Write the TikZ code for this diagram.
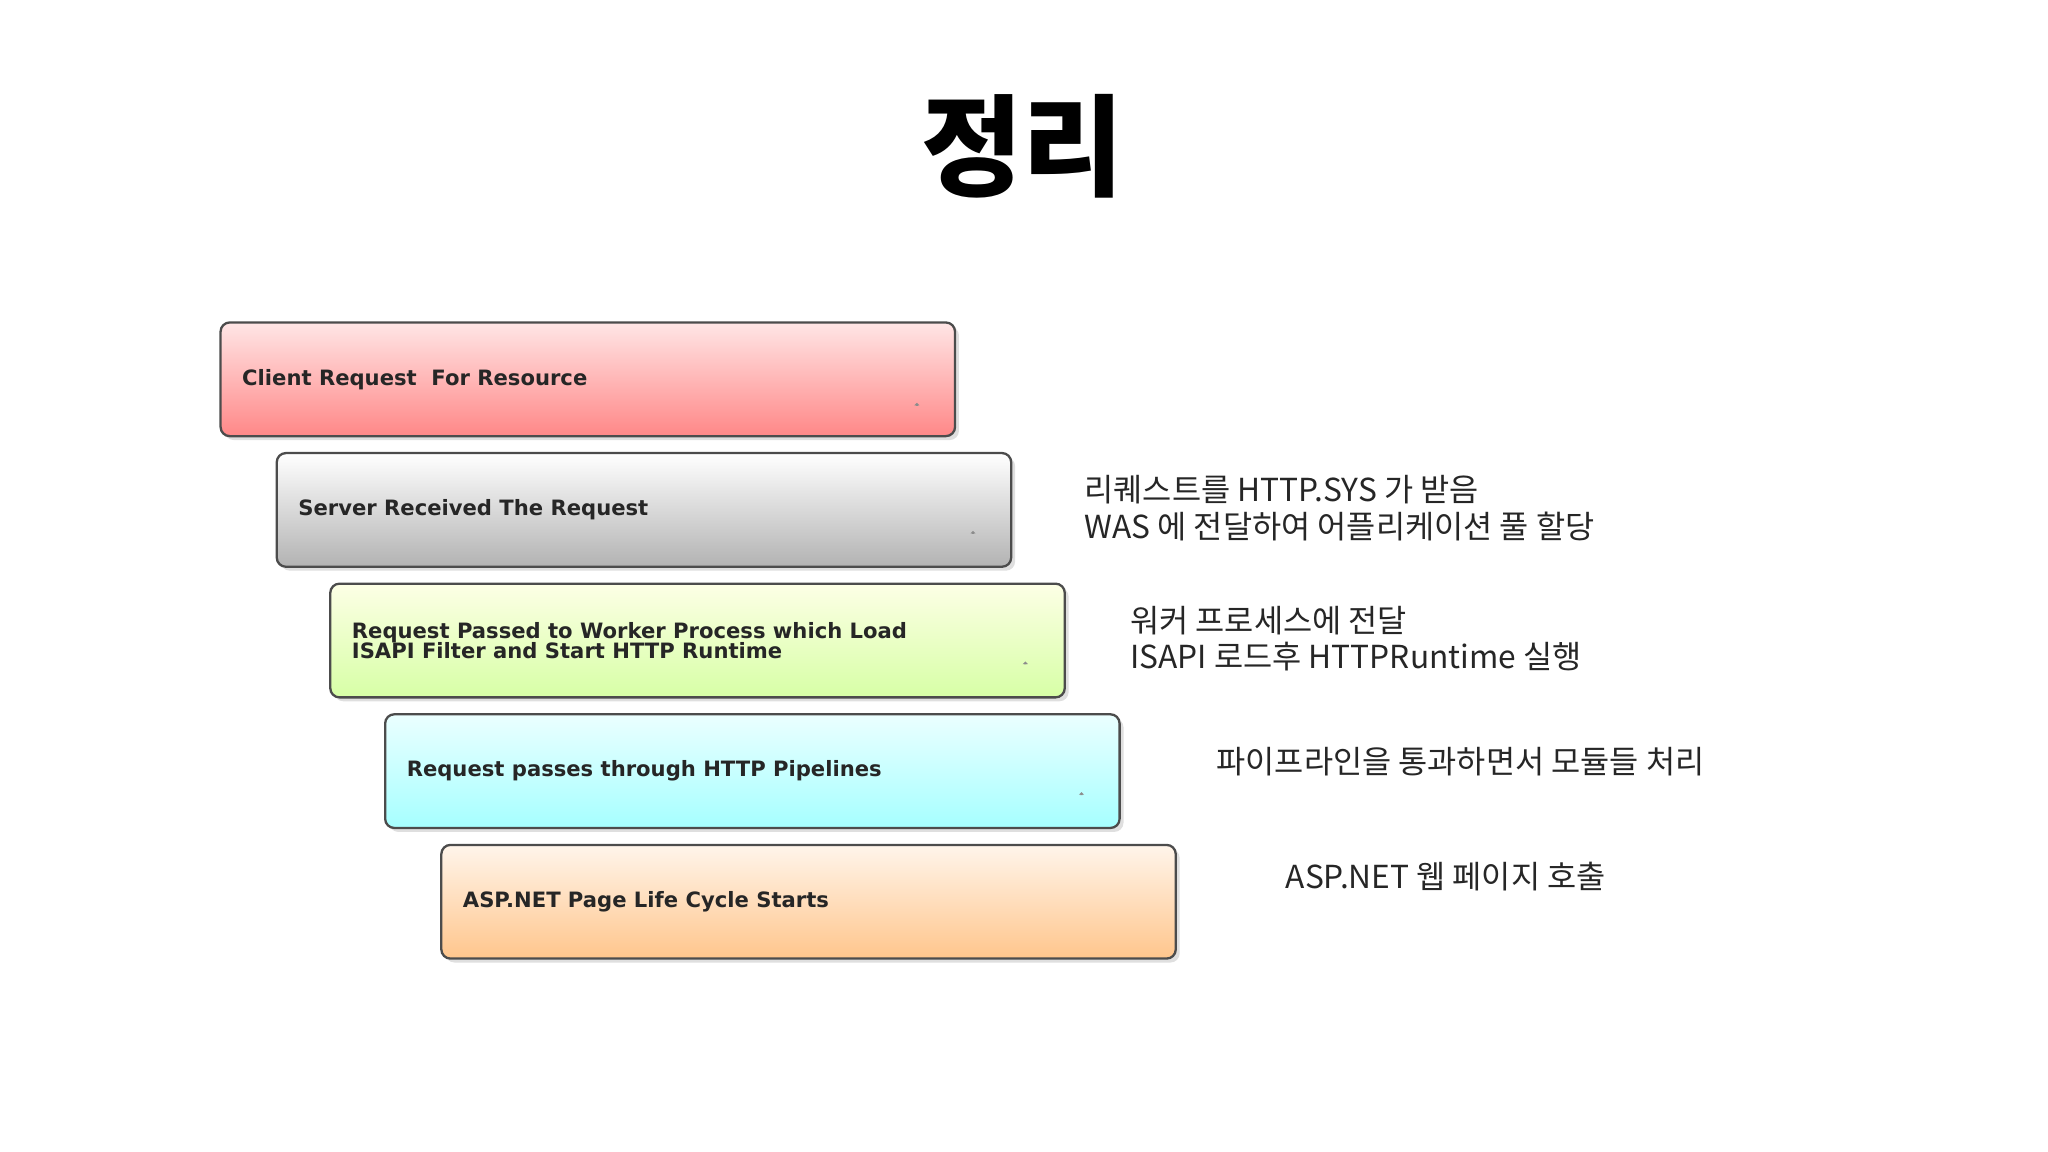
\documentclass[tikz,border=0pt]{standalone}
\usepackage{fontspec}
\setmainfont{Noto Sans CJK KR}
\newfontfamily\boxfont{DejaVu Sans}
\usetikzlibrary{shadows}
\tikzset{
  stage/.style={draw=black!70, line width=0.5pt, rounded corners=2pt, minimum width=5.62cm, minimum height=0.87cm, anchor=north west, drop shadow={opacity=0.25,shadow xshift=0.03cm,shadow yshift=-0.03cm}},
  lbl/.style={font=\boxfont\bfseries\fontsize{4.6}{4.6}\selectfont, anchor=west, align=left, text=black!85},
  note/.style={font=\fontsize{6.9}{8}\selectfont, anchor=west, align=left, text=black!85},
  darr/.style={draw=black!45, line width=0.4pt},
  pics/downarr/.style={code={
    \path[darr,top color=white,bottom color=#1] (-0.15,0) -- (0.15,0) -- (0.15,-0.30) -- (0.28,-0.30) -- (0,-0.58) -- (-0.28,-0.30) -- (-0.15,-0.30) -- cycle;
  }}
}
\begin{document}
\begin{tikzpicture}[x=0.01cm,y=-0.01cm]
\useasboundingbox (0,0) rectangle (1568,882);
\node[font=\bfseries\fontsize{24}{24}\selectfont] (title) at (783,112) {정리};

\node[stage, top color=red!10, bottom color=red!45!pink!80] (b1) at (168,246) {};
\node[stage, top color=white, bottom color=black!30] (b2) at (211,346) {};
\node[stage, top color=green!8!yellow!10, bottom color=green!45!yellow!35] (b3) at (252,446) {};
\node[stage, top color=cyan!8, bottom color=cyan!35] (b4) at (294,546) {};
\node[stage, top color=orange!8, bottom color=orange!45] (b5) at (337,646) {};

\node[lbl] (t1) at ([xshift=0.05cm]b1.west) {Client Request \ For Resource};
\node[lbl] (t2) at ([xshift=0.05cm]b2.west) {Server Received The Request};
\node[lbl] (t3) at ([xshift=0.05cm]b3.west) {Request Passed to Worker Process which Load\\[-0.3pt]ISAPI Filter and Start HTTP Runtime};
\node[lbl] (t4) at ([xshift=0.05cm]b4.west) {Request passes through HTTP Pipelines};
\node[lbl] (t5) at ([xshift=0.05cm]b5.west) {ASP.NET Page Life Cycle Starts};

\pic at (702,310) {downarr=cyan!60};
\pic at (745,408) {downarr=orange!70};
\pic at (785,508) {downarr=black!40};
\pic at (828,608) {downarr=red!40};

\node[note] (n1) at (818,389) {리퀘스트를 HTTP.SYS 가 받음\\WAS 에 전달하여 어플리케이션 풀 할당};
\node[note] (n2) at (853,489) {워커 프로세스에 전달\\ISAPI 로드후 HTTPRuntime 실행};
\node[note] (n3) at (919,583) {파이프라인을 통과하면서 모듈들 처리};
\node[note] (n4) at (972,671) {ASP.NET 웹 페이지 호출};
\end{tikzpicture}
\end{document}
